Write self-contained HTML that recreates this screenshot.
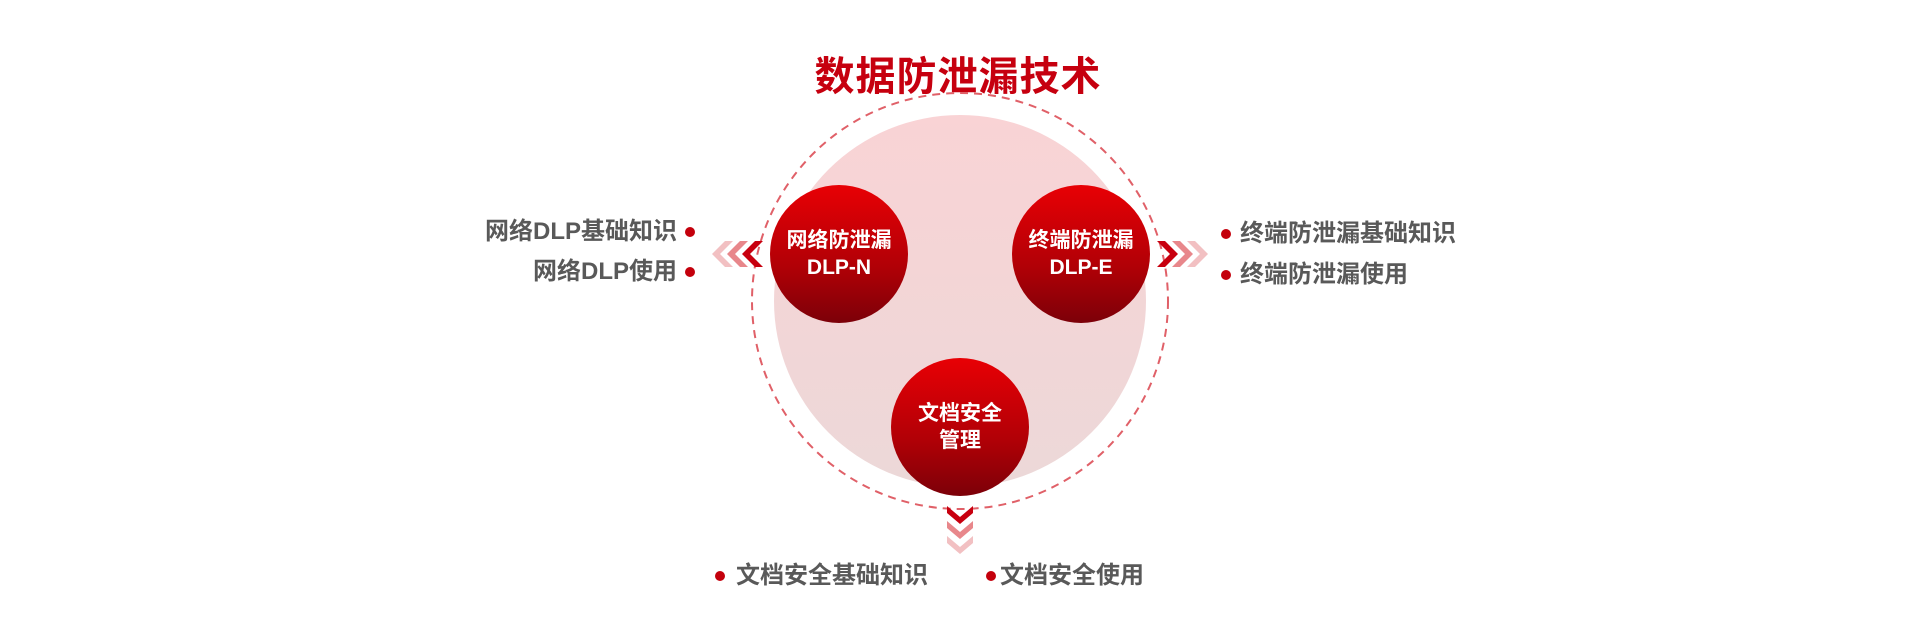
<!DOCTYPE html>
<html><head><meta charset="utf-8"><style>
body{margin:0;width:1920px;height:624px;background:#fff;overflow:hidden;position:relative;font-family:"Liberation Sans","Noto Sans CJK SC",sans-serif}
.t{position:absolute;white-space:nowrap;font-size:24px;font-weight:bold;color:#595959;line-height:30px}
.c{position:absolute;width:138px;height:138px;border-radius:50%;background:linear-gradient(#e80005,#b00006 60%,#7c0008);color:#fff;font-size:21px;font-weight:bold;text-align:center;display:flex;flex-direction:column;justify-content:center;line-height:27px}
.d{position:absolute;width:10px;height:10px;border-radius:50%;background:#c4000c}
</style></head><body>
<div style="position:absolute;left:0;width:1916px;top:44px;text-align:center;font-size:40px;font-weight:bold;color:#c6000f;letter-spacing:1px">数据防泄漏技术</div>
<svg width="1920" height="624" style="position:absolute;left:0;top:0">
<defs><linearGradient id="p" x1="0" y1="0" x2="0" y2="1"><stop offset="0" stop-color="#f9d3d5"/><stop offset="1" stop-color="#ecd8d8"/></linearGradient></defs>
<circle cx="960" cy="301" r="186" fill="url(#p)"/>
<circle cx="960" cy="301" r="208" fill="none" stroke="#e06068" stroke-width="2" stroke-dasharray="8,6"/>
<polygon points="725,241 733,241 720,254 733,267 725,267 712,254" fill="#f2c0c2"/>
<polygon points="740,241 748,241 735,254 748,267 740,267 727,254" fill="#e8878b"/>
<polygon points="755,241 763,241 750,254 763,267 755,267 742,254" fill="#c8000f"/>
<polygon points="1157,241 1165,241 1178,254 1165,267 1157,267 1170,254" fill="#c8000f"/>
<polygon points="1172,241 1180,241 1193,254 1180,267 1172,267 1185,254" fill="#e8878b"/>
<polygon points="1187,241 1195,241 1208,254 1195,267 1187,267 1200,254" fill="#f2c0c2"/>
<polygon points="947,506 960,517 973,506 973,513 960,524 947,513" fill="#c8000f"/>
<polygon points="947,521 960,532 973,521 973,528 960,539 947,528" fill="#e8878b"/>
<polygon points="947,536 960,547 973,536 973,543 960,554 947,543" fill="#f2c0c2"/>
</svg>
<div class="c" style="left:770px;top:185px"><div>网络防泄漏</div><div>DLP-N</div></div>
<div class="c" style="left:1012px;top:185px"><div>终端防泄漏</div><div>DLP-E</div></div>
<div class="c" style="left:891px;top:358px"><div>文档安全</div><div>管理</div></div>
<div class="t" style="right:1243px;top:217px">网络DLP基础知识</div>
<div class="t" style="right:1243px;top:257px">网络DLP使用</div>
<div class="d" style="left:685px;top:227px"></div>
<div class="d" style="left:685px;top:267px"></div>
<div class="d" style="left:1221px;top:229px"></div>
<div class="d" style="left:1221px;top:270px"></div>
<div class="t" style="left:1240px;top:219px">终端防泄漏基础知识</div>
<div class="t" style="left:1240px;top:260px">终端防泄漏使用</div>
<div class="d" style="left:715px;top:571px"></div>
<div class="d" style="left:986px;top:571px"></div>
<div class="t" style="left:736px;top:561px">文档安全基础知识</div>
<div class="t" style="left:1000px;top:561px">文档安全使用</div>
</body></html>
